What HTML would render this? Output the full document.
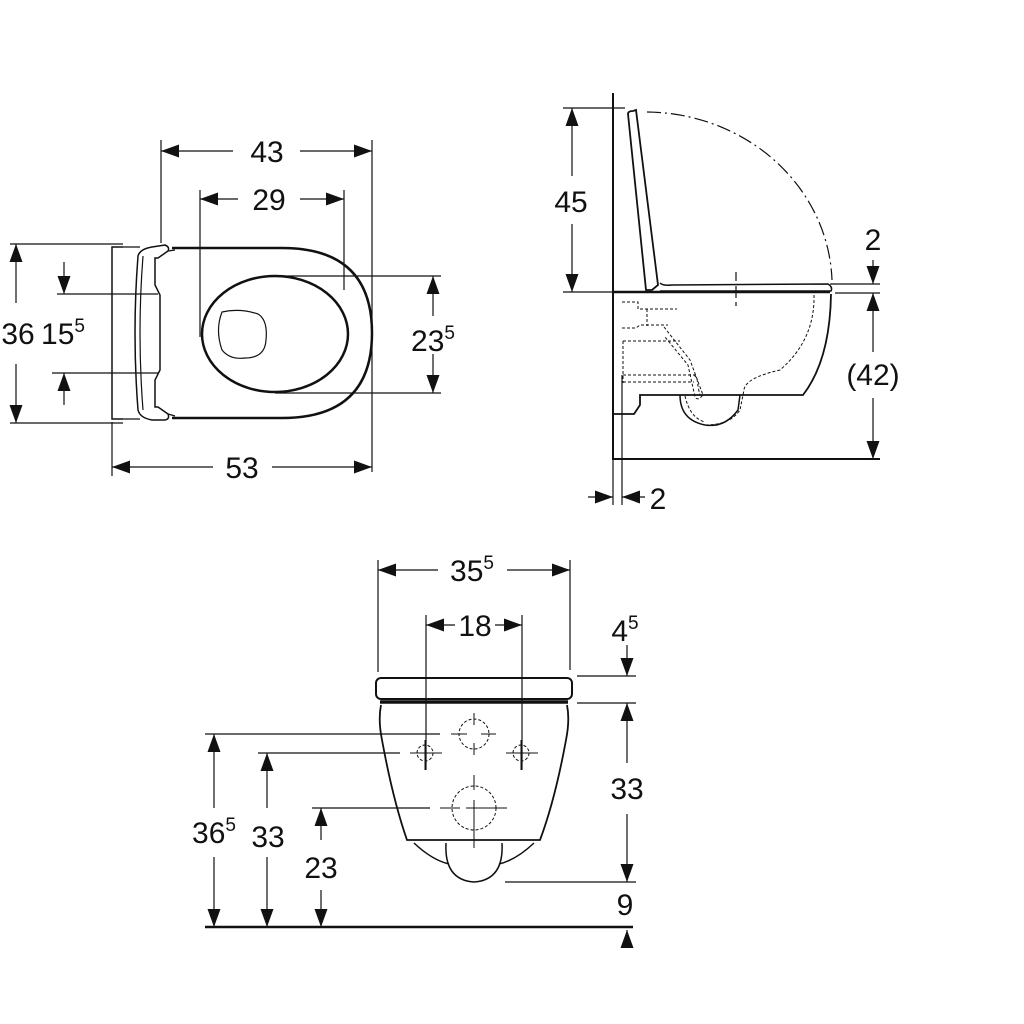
<!DOCTYPE html>
<html><head><style>body{margin:0;background:#fff}svg{display:block}text{font-family:"Liberation Sans",sans-serif;fill:#111}</style></head><body>
<svg width="1024" height="1024" viewBox="0 0 1024 1024" xmlns="http://www.w3.org/2000/svg">
<defs>
<marker id="a" viewBox="0 0 18 13" refX="18" refY="6.5" markerWidth="18" markerHeight="13" markerUnits="userSpaceOnUse" orient="auto-start-reverse"><path d="M0,0L18,6.5L0,13z" fill="#111"/></marker>
</defs>
<g stroke="#111" fill="none" stroke-width="1.2">
<!-- TOP VIEW -->
<line x1="161" y1="140" x2="161" y2="243"/><line x1="372" y1="140" x2="372" y2="472"/>
<line x1="200" y1="190" x2="200" y2="337"/><line x1="344" y1="190" x2="344" y2="290"/>
<line x1="112" y1="422" x2="112" y2="476"/>
<path d="M161,151H233" marker-start="url(#a)"/><path d="M300,151H372" marker-end="url(#a)"/>
<path d="M200,199H238" marker-start="url(#a)"/><path d="M300,199H344" marker-end="url(#a)"/>
<path d="M112,467H213" marker-start="url(#a)"/><path d="M272,467H372" marker-end="url(#a)"/>
<line x1="10" y1="244" x2="123" y2="244"/><line x1="10" y1="423" x2="123" y2="423"/>
<path d="M16,244V303" marker-start="url(#a)"/><path d="M16,364V423" marker-end="url(#a)"/>
<line x1="57" y1="294" x2="158" y2="294"/><line x1="52" y1="373" x2="158" y2="373"/>
<path d="M64,262V294" marker-end="url(#a)"/><path d="M64,405V373" marker-end="url(#a)"/>
<line x1="280" y1="276" x2="441" y2="276"/><line x1="275" y1="393" x2="441" y2="393"/>
<path d="M433,276V316" marker-start="url(#a)"/><path d="M433,354V393" marker-end="url(#a)"/>
<!-- body -->
<path d="M123,247H112V419H123" stroke-width="1.5"/>
<path d="M123,247H140M123,419H140"/>
<path d="M152,247L165,245Q170,247 168,251L158,258H155V285L160,295V370L155,380V407H158L168,414Q170,419 165,420L152,420Q140,418 138,410Q132,333 138,256Q140,249 152,247Z" stroke-width="1.5"/>
<path d="M143,256Q137,333 143,410"/>
<path d="M172,248H282Q372,248 372,333Q372,418 282,418H172" stroke-width="2.5"/>
<path d="M168,251L175,250M168,414L175,416"/>
<ellipse cx="275" cy="334" rx="73" ry="58" stroke-width="2.5"/>
<path d="M222,312Q240,308 258,314Q268,320 266,340Q265,358 245,358Q230,360 222,350Q215,330 222,312Z"/>
<!-- SIDE VIEW -->
<line x1="613" y1="93" x2="613" y2="460" stroke-width="2"/>
<line x1="613" y1="459" x2="880" y2="459" stroke-width="2"/>
<line x1="622" y1="375" x2="622" y2="505"/><line x1="613" y1="460" x2="613" y2="505"/>
<line x1="563" y1="108" x2="625" y2="108"/><line x1="563" y1="292" x2="612" y2="292"/>
<path d="M572,108V176" marker-start="url(#a)"/><path d="M572,224V292" marker-end="url(#a)"/>
<path d="M628,114Q628,111 633,111L636,110L658,285L652,290H646Z" stroke-width="1.8"/>
<path d="M660,283Q663,286 672,285L828,284Q833,287 831,291H660" stroke-width="1.5"/>
<line x1="613" y1="292" x2="830" y2="292" stroke-width="2.5"/>
<path d="M647,112A187,174 0 0 1 832,280" stroke-dasharray="14,4,2,4"/>
<path d="M736,272V281M736,286V298M736,302V306"/>
<path d="M831,294Q830,360 803,395H640V405L634,414H613" stroke-width="1.8"/>
<path d="M680,395Q680,420 705,425Q725,428 738,410L740,395" stroke-width="1.5"/>
<g stroke-dasharray="3,2" stroke-width="1">
<path d="M622,302H638V309H677M622,328H636L640,325H668M647,309V326M623,341H680M623,375H696M623,382H694"/>
<path d="M664,327L690,360L703,395L700,398Q697,400 695,397L688,365L665,337"/>
<path d="M623,341V383M694,375L697,378Q698,388 700,395"/>
<path d="M814,295Q815,340 780,370Q745,378 744,390Q742,400 740,410Q730,425 705,425"/>
<path d="M685,396Q690,418 705,422"/>
</g>
<line x1="830" y1="284" x2="880" y2="284"/><line x1="835" y1="293" x2="880" y2="293"/>
<path d="M873,260V284" marker-end="url(#a)"/>
<path d="M873,293V352" marker-start="url(#a)"/><path d="M873,398V459" marker-end="url(#a)"/>
<path d="M588,497H613" marker-end="url(#a)"/><path d="M645,497H622" marker-end="url(#a)"/>
<!-- FRONT VIEW -->
<line x1="378" y1="560" x2="378" y2="672"/><line x1="570" y1="560" x2="570" y2="670"/>
<path d="M378,570H438" marker-start="url(#a)"/><path d="M507,570H570" marker-end="url(#a)"/>
<line x1="426" y1="615" x2="426" y2="770"/><line x1="522" y1="615" x2="522" y2="770"/>
<path d="M426,625H455" marker-start="url(#a)"/><path d="M495,625H522" marker-end="url(#a)"/>
<rect x="376" y="678" width="196" height="21" rx="5" stroke-width="2"/>
<line x1="380" y1="702" x2="568" y2="702" stroke-width="3.5"/>
<path d="M381,705Q378,720 382,740Q393,800 407,840H540Q555,800 566,740Q570,720 567,705" stroke-width="1.8"/>
<path d="M414,843Q432,860 449,864M534,843Q516,860 499,864" stroke-width="1.5"/>
<path d="M446,843Q444,880 474,882Q504,880 502,843" stroke-width="1.5"/>
<g stroke-dasharray="3,2" stroke-width="1">
<circle cx="474" cy="734" r="15"/><circle cx="425" cy="753" r="8"/><circle cx="521" cy="753" r="8"/><circle cx="474" cy="808" r="22"/>
</g>
<path d="M474,713V725M474,743V755M451,734H467M481,734H496M425,740V770M410,753H442M521,740V770M506,753H538M474,775V790M474,800V848M440,808H460M466,808H507" stroke-width="1"/>
<line x1="577" y1="676" x2="636" y2="676"/><line x1="577" y1="703" x2="636" y2="703"/>
<line x1="505" y1="882" x2="636" y2="882"/>
<path d="M627,645V676" marker-end="url(#a)"/>
<path d="M627,703V763" marker-start="url(#a)"/><path d="M627,814V882" marker-end="url(#a)"/>
<path d="M627,946V930" marker-end="url(#a)"/>
<line x1="205" y1="927" x2="633" y2="927" stroke-width="2.5"/>
<line x1="205" y1="734" x2="440" y2="734"/><line x1="258" y1="753" x2="400" y2="753"/><line x1="312" y1="808" x2="430" y2="808"/>
<path d="M214,734V808" marker-start="url(#a)"/><path d="M214,857V927" marker-end="url(#a)"/>
<path d="M267,753V808" marker-start="url(#a)"/><path d="M267,857V927" marker-end="url(#a)"/>
<path d="M321,808V840" marker-start="url(#a)"/><path d="M321,890V927" marker-end="url(#a)"/>
</g>
<g font-size="30" text-anchor="middle">
<text x="267" y="162">43</text>
<text x="269" y="210">29</text>
<text x="242" y="478">53</text>
<text x="18" y="344">36</text>
<text x="63" y="344">15<tspan font-size="19" dy="-12">5</tspan></text>
<text x="433" y="351">23<tspan font-size="19" dy="-12">5</tspan></text>
<text x="571" y="212">45</text>
<text x="873" y="250">2</text>
<text x="873" y="385">(42)</text>
<text x="658" y="509">2</text>
<text x="472" y="581">35<tspan font-size="19" dy="-12">5</tspan></text>
<text x="475" y="636">18</text>
<text x="625" y="641">4<tspan font-size="19" dy="-12">5</tspan></text>
<text x="627" y="799">33</text>
<text x="625" y="915">9</text>
<text x="214" y="843">36<tspan font-size="19" dy="-12">5</tspan></text>
<text x="268" y="847">33</text>
<text x="321" y="878">23</text>
</g>
</svg>
</body></html>
